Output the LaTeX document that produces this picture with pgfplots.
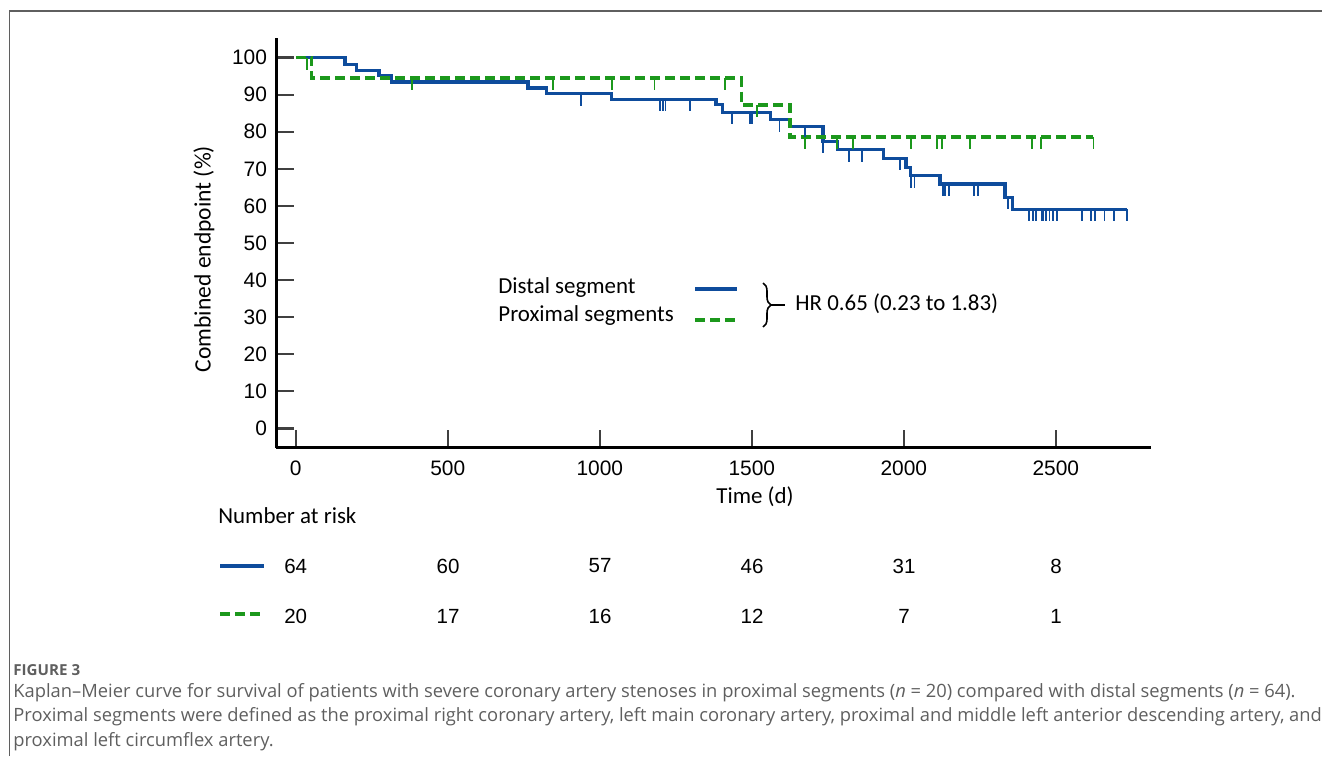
\documentclass[border=0pt]{standalone}
\usepackage{pgfplots}
\pgfplotsset{compat=1.18}
\usepackage{fontspec}
\setmainfont{Carlito}
\newfontfamily\arial{Liberation Sans}
\newfontfamily\opensans{Open Sans}
\usetikzlibrary{decorations.pathreplacing}
\definecolor{kmblue}{RGB}{14,76,156}
\definecolor{kmgreen}{RGB}{28,152,28}
\definecolor{capgray}{RGB}{95,95,95}
% censor tick, pointing down from the curve
\pgfdeclareplotmark{cens}{%
  \pgfpathmoveto{\pgfpointorigin}%
  \pgfpathlineto{\pgfpoint{0pt}{-\pgfplotmarksize}}%
  \pgfusepathqstroke}
\begin{document}
\begin{tikzpicture}
\begin{axis}[
  at={(138bp,-223.85bp)}, anchor=south west,
  scale only axis, width=437.3bp, height=204.7bp,
  xmin=-65, xmax=2812, ymin=-5.2, ymax=105.2,
  axis x line*=bottom, axis y line*=left,
  axis line style={line width=1.5bp, black, -},
  xtick={0,500,...,2500}, ytick={0,10,...,100},
  tick align=inside, major tick length=9bp,
  tick style={line width=1.1bp, black!75},
  ticklabel style={font=\arial\fontsize{10.5}{12}\selectfont},
  /pgf/number format/assume math mode=true,
  /pgf/number format/1000 sep={},
  xticklabel style={yshift=-3bp},
  yticklabel style={xshift=-1bp},
  clip=false]
% distal segment
\addplot[const plot, kmblue, line width=1.6bp] coordinates {
(0,100) (162,98.1) (201,96.6) (274,95.2) (316,93.4) (764,91.8) (826,90.3)
(1039,88.7) (1382,87.4) (1403,85.3) (1562,83.3) (1626,81.5) (1734,77.4)
(1781,75.2) (1933,72.8) (2007,70.3) (2023,68.1) (2119,65.9) (2333,62.3)
(2357,59.1) (2735,59.1)};
\addplot[only marks, mark=cens, mark size=6bp, kmblue, mark options={line width=0.9bp}] coordinates {
(937,90.3) (1198,88.7) (1207,88.7) (1216,88.7) (1297,88.7)
(1436,85.3) (1495,85.3) (1501,85.3) (1591,83.3) (1675,81.5) (1734,77.4)
(1821,75.2) (1862,75.2) (1988,72.8) (2023,68.1) (2035,68.1)
(2128,65.9) (2136,65.9) (2148,65.9) (2232,65.9) (2245,65.9) (2342,62.3)
(2413,59.1) (2424,59.1) (2435,59.1) (2454,59.1) (2459,59.1) (2468,59.1)
(2479,59.1) (2490,59.1) (2503,59.1) (2585,59.1) (2616,59.1) (2629,59.1)
(2660,59.1) (2692,59.1) (2735,59.1)};
% proximal segments
\addplot[const plot, kmgreen, line width=1.6bp, dash pattern=on 5bp off 2.5bp] coordinates {
(0,100) (53,94.5) (1467,87.2) (1626,78.6) (2624,78.6)};
\addplot[only marks, mark=cens, mark size=6bp, kmgreen, mark options={line width=0.9bp}] coordinates {
(36,100) (382,94.5) (847,94.5) (1039,94.5) (1180,94.5) (1412,94.5)
(1516,87.2) (1675,78.6) (1781,78.6) (1834,78.6) (2023,78.6) (2109,78.6)
(2125,78.6) (2218,78.6) (2421,78.6) (2452,78.6) (2624,78.6)};
\end{axis}
\begin{scope}[x=0.5bp, y=-0.5bp]
\draw[capgray, line width=0.6bp] (9.5,756) -- (9.5,11) -- (1322,11);
\node[rotate=90, font=\fontsize{11.8}{14}\selectfont] at (204,259) {Combined endpoint (\%)};
\node[font=\fontsize{11.5}{14}\selectfont] at (755,497) {Time (d)};
% legend
\node[anchor=west, inner sep=0pt, font=\fontsize{11.5}{14}\selectfont] at (498,288) {Distal segment};
\node[anchor=west, inner sep=0pt, font=\fontsize{11.5}{14}\selectfont] at (498,316) {Proximal segments};
\draw[kmblue, line width=1.6bp] (695,289) -- (737,289);
\draw[kmgreen, line width=1.6bp, dash pattern=on 5bp off 2.5bp] (695,320) -- (737,320);
\draw[line width=0.8bp, decorate, decoration={brace, amplitude=4bp}] (763,283) -- (763,327);
\draw[line width=0.8bp] (771,305) -- (785,305);
\node[anchor=west, inner sep=0pt, font=\fontsize{11.5}{14}\selectfont] at (795,304) {HR 0.65 (0.23 to 1.83)};
% number at risk
\node[anchor=west, inner sep=0pt, font=\fontsize{11.5}{14}\selectfont] at (218,516) {Number at risk};
\draw[kmblue, line width=1.6bp] (220,566) -- (264,566);
\draw[kmgreen, line width=1.6bp, dash pattern=on 5bp off 2.5bp] (220,614) -- (264,614);
\foreach \xx/\a/\b in {295.7/64/20, 448/60/17, 600/57/16, 752/46/12, 904/31/7, 1056/8/1} {
  \node[font=\arial\fontsize{10.3}{12}\selectfont] at (\xx,566) {\a};
  \node[font=\arial\fontsize{10.3}{12}\selectfont] at (\xx,616) {\b};
}
% caption
\node[anchor=west, inner sep=0pt, text=capgray, font=\opensans\bfseries\fontsize{7.6}{9}\selectfont] at (13,670) {FIGURE 3};
\node[anchor=north west, inner sep=0pt, align=left, text=capgray, font=\opensans\fontsize{9.2}{12.25}\selectfont] at (13,683)
 {Kaplan–Meier curve for survival of patients with severe coronary artery stenoses in proximal segments (\textit{n} = 20) compared with distal segments (\textit{n} = 64).\\
 Proximal segments were defined as the proximal right coronary artery, left main coronary artery, proximal and middle left anterior descending artery, and\\
 proximal left circumflex artery.};
\pgfresetboundingbox
\path[use as bounding box] (0,0) rectangle (1322,756);
\end{scope}
\end{tikzpicture}
\end{document}
